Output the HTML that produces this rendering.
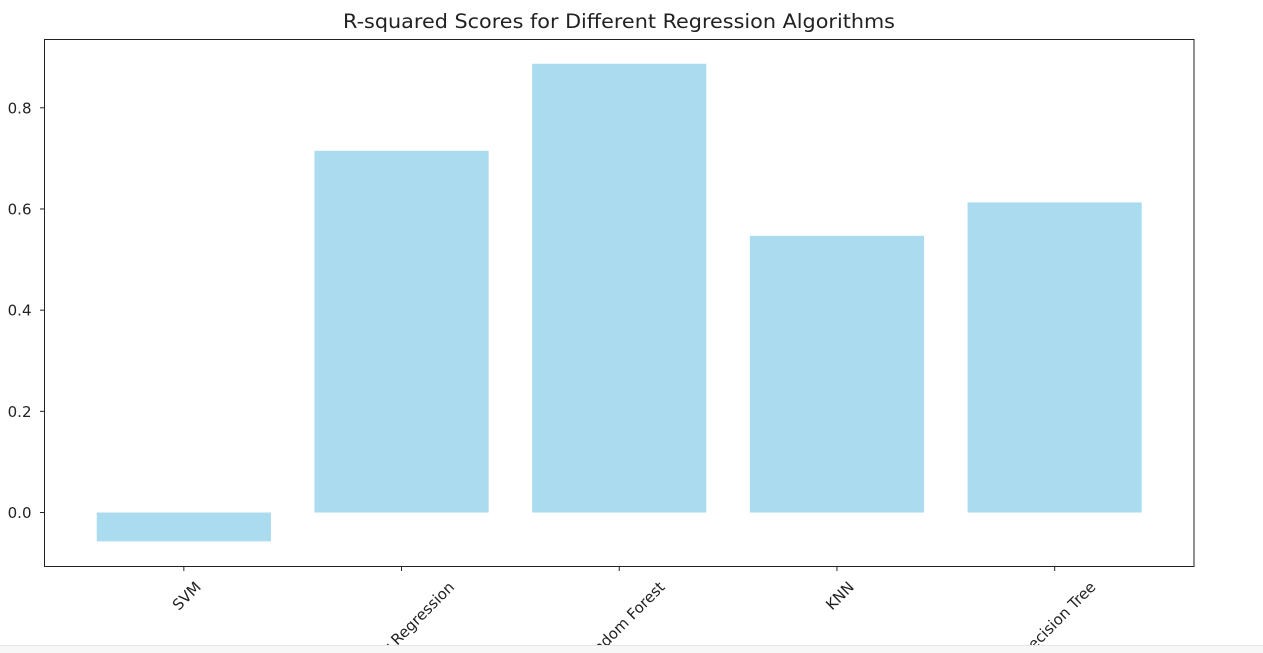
<!DOCTYPE html>
<html><head><meta charset="utf-8"><style>
html,body{margin:0;padding:0;background:#fff;width:1263px;height:653px;overflow:hidden}
svg{display:block;font-family:"DejaVu Sans","Liberation Sans",sans-serif}
</style></head><body>
<svg id="chart" width="1263" height="653" xmlns="http://www.w3.org/2000/svg">
<text x="343" y="28" font-size="19.5" fill="#222" textLength="552" lengthAdjust="spacingAndGlyphs">R-squared Scores for Different Regression Algorithms</text>
<g id="bars"></g>
<rect x="44.5" y="39.5" width="1149.5" height="527" fill="none" stroke="#222" stroke-width="1"/>
<g id="yaxis"></g>
<g id="xaxis"></g>
<rect x="0" y="645" width="1263" height="8" fill="#f7f7f7"/>
<line x1="0" y1="645.5" x2="1263" y2="645.5" stroke="#e6e6e6"/>
</svg>
<script>
const categories = ["SVM","Linear Regression","Random Forest","KNN","Decision Tree"];
const scores = [-0.057, 0.715, 0.887, 0.547, 0.613];
const yTicks = [0.0, 0.2, 0.4, 0.6, 0.8];
const yTickLabels = ["0.0","0.2","0.4","0.6","0.8"];

const NS="http://www.w3.org/2000/svg";
const L=44.5,R=1194,T=39.5,B=566.5;
const yMin=-0.1067,yMax=0.935;
const xMin=-0.64,xMax=categories.length-1+0.64;
const y=v=>B-(v-yMin)/(yMax-yMin)*(B-T);
const x=i=>L+(i-xMin)/(xMax-xMin)*(R-L);
const bw=(x(0.8)-x(0));
function mk(tag,attrs,parent){const e=document.createElementNS(NS,tag);for(const k in attrs)e.setAttribute(k,attrs[k]);parent.appendChild(e);return e;}
const bars=document.getElementById('bars'),ya=document.getElementById('yaxis'),xa=document.getElementById('xaxis');
scores.forEach((v,i)=>{
  const r=mk('rect',{x:x(i)-bw/2,y:Math.min(y(v),y(0)),width:bw,height:Math.abs(y(v)-y(0)),fill:'#aadbee'},bars);
  
  
});
yTicks.forEach((v,i)=>{
  const t=mk('line',{x1:L-4.5,x2:L,y1:y(v),y2:y(v),stroke:'#222'},ya);
  
  
  const tx=mk('text',{x:L-13,y:y(v)+5.5,'text-anchor':'end','font-size':15,fill:'#222'},ya);
  tx.textContent=yTickLabels[i];
  
  
});
categories.forEach((c,i)=>{
  const t=mk('line',{x1:x(i),x2:x(i),y1:B,y2:B+4.5,stroke:'#222'},xa);
  
  
  const tx=mk('text',{'text-anchor':'middle','font-size':15,fill:'#222'},xa);
  tx.textContent=c;
  
  
  const len=tx.getComputedTextLength();
  const h=(len+14)*0.7071;
  const cx=x(i)+3, cy=B+13+h/2;
  tx.setAttribute('x',cx);tx.setAttribute('y',cy+5);
  tx.setAttribute('transform','rotate(-45 '+cx+' '+cy+')');
});
</script>
</body></html>
